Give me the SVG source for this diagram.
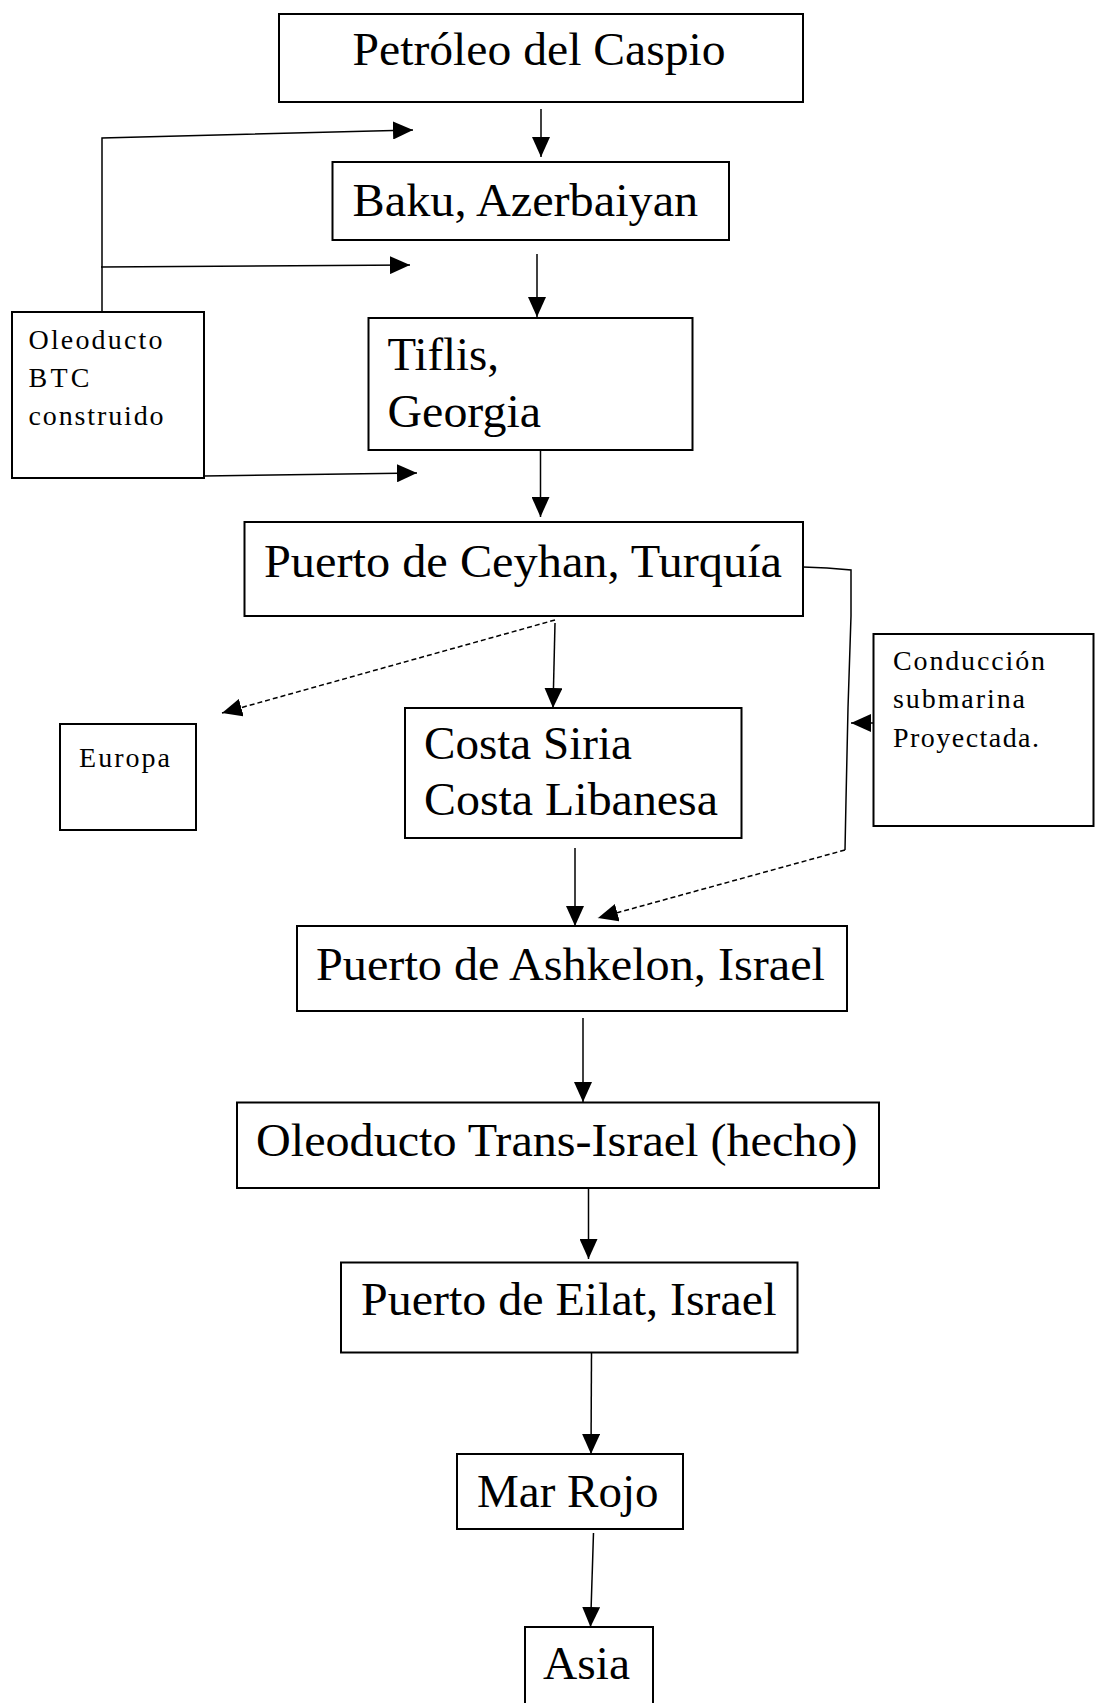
<svg xmlns="http://www.w3.org/2000/svg" width="1095" height="1703" viewBox="0 0 1095 1703">
<style>
.box{fill:#fff;stroke:#000;stroke-width:2}
.big{font-family:"Liberation Serif","Times New Roman",serif;font-size:47px;fill:#000}
.small{font-family:"Liberation Serif","Times New Roman",serif;font-size:28px;fill:#000}
.ln{fill:none;stroke:#000;stroke-width:1.5}
.dash{stroke-dasharray:5 3}
</style>
<defs>
<marker id="ah" markerUnits="userSpaceOnUse" markerWidth="21" markerHeight="18" refX="20" refY="9" orient="auto">
<path d="M0,0 L20,9 L0,18 z" fill="#000"/>
</marker>
</defs>
<rect x="0" y="0" width="1095" height="1703" fill="#fff"/>
<g id="connectors">
<line class="ln" x1="541" y1="109" x2="541" y2="157" marker-end="url(#ah)"/>
<line class="ln" x1="537" y1="254" x2="537" y2="317" marker-end="url(#ah)"/>
<line class="ln" x1="540.5" y1="450" x2="540.5" y2="517" marker-end="url(#ah)"/>
<line class="ln" x1="555" y1="623" x2="553" y2="708" marker-end="url(#ah)"/>
<line class="ln" x1="575" y1="848" x2="575" y2="926" marker-end="url(#ah)"/>
<line class="ln" x1="583" y1="1018" x2="583" y2="1102" marker-end="url(#ah)"/>
<line class="ln" x1="588.5" y1="1188" x2="588.5" y2="1259" marker-end="url(#ah)"/>
<line class="ln" x1="591.5" y1="1352" x2="591" y2="1454" marker-end="url(#ah)"/>
<line class="ln" x1="593.5" y1="1533" x2="590.5" y2="1627" marker-end="url(#ah)"/>
<polyline class="ln" points="102,312 102,138 413,130" marker-end="url(#ah)"/>
<line class="ln" x1="101" y1="267" x2="410" y2="265" marker-end="url(#ah)"/>
<line class="ln" x1="204" y1="476" x2="417" y2="473" marker-end="url(#ah)"/>
<line class="ln dash" x1="555" y1="620" x2="222" y2="713" marker-end="url(#ah)"/>
<polyline class="ln" points="803,567 827,568 851,570 851,616 848,708 846,800 845,850"/>
<line class="ln dash" x1="845" y1="850" x2="598" y2="918" marker-end="url(#ah)"/>
<line class="ln" x1="873" y1="723" x2="851" y2="723" marker-end="url(#ah)"/>
</g>
<g id="n-petroleo">
<rect class="box" x="279" y="14" width="524" height="88"/>
<text class="big" x="352.6" y="65" textLength="373" lengthAdjust="spacingAndGlyphs">Petróleo del Caspio</text>
</g>
<g id="n-baku">
<rect class="box" x="332.5" y="162" width="396.5" height="78"/>
<text class="big" x="352.6" y="216" textLength="345.6" lengthAdjust="spacingAndGlyphs">Baku, Azerbaiyan</text>
</g>
<g id="n-tiflis">
<rect class="box" x="368.5" y="318" width="324" height="132"/>
<text class="big" x="387.5" y="369.5" textLength="111.5" lengthAdjust="spacingAndGlyphs">Tiflis,</text>
<text class="big" x="387.5" y="426.6" textLength="153.5" lengthAdjust="spacingAndGlyphs">Georgia</text>
</g>
<g id="n-btc">
<rect class="box" x="12" y="312" width="192" height="166"/>
<text class="small" x="28.5" y="349" textLength="134">Oleoducto</text>
<text class="small" x="28.5" y="387" textLength="61">BTC</text>
<text class="small" x="28.5" y="425" textLength="135">construido</text>
</g>
<g id="n-ceyhan">
<rect class="box" x="244.5" y="522" width="558.5" height="94"/>
<text class="big" x="264" y="577" textLength="518" lengthAdjust="spacingAndGlyphs">Puerto de Ceyhan, Turquía</text>
</g>
<g id="n-europa">
<rect class="box" x="60" y="724" width="136" height="106"/>
<text class="small" x="79" y="767" textLength="91">Europa</text>
</g>
<g id="n-costa">
<rect class="box" x="405" y="708" width="336.5" height="130"/>
<text class="big" x="424" y="759" textLength="208" lengthAdjust="spacingAndGlyphs">Costa Siria</text>
<text class="big" x="424" y="815" textLength="294" lengthAdjust="spacingAndGlyphs">Costa Libanesa</text>
</g>
<g id="n-conduccion">
<rect class="box" x="873.5" y="634" width="220" height="192"/>
<text class="small" x="893" y="670" textLength="152">Conducción</text>
<text class="small" x="893" y="708" textLength="132">submarina</text>
<text class="small" x="893" y="747" textLength="146">Proyectada.</text>
</g>
<g id="n-ashkelon">
<rect class="box" x="297" y="926" width="550" height="85"/>
<text class="big" x="316" y="980" textLength="509" lengthAdjust="spacingAndGlyphs">Puerto de Ashkelon, Israel</text>
</g>
<g id="n-trans">
<rect class="box" x="237" y="1102.5" width="642" height="85.5"/>
<text class="big" x="256" y="1156" textLength="601.5" lengthAdjust="spacingAndGlyphs">Oleoducto Trans-Israel (hecho)</text>
</g>
<g id="n-eilat">
<rect class="box" x="341" y="1262.5" width="456.5" height="90"/>
<text class="big" x="361" y="1314.5" textLength="415.5" lengthAdjust="spacingAndGlyphs">Puerto de Eilat, Israel</text>
</g>
<g id="n-marrojo">
<rect class="box" x="457" y="1454" width="226" height="75"/>
<text class="big" x="477" y="1507" textLength="181.5" lengthAdjust="spacingAndGlyphs">Mar Rojo</text>
</g>
<g id="n-asia">
<rect class="box" x="525" y="1627" width="128" height="100"/>
<text class="big" x="543" y="1679" textLength="87" lengthAdjust="spacingAndGlyphs">Asia</text>
</g>
</svg>
